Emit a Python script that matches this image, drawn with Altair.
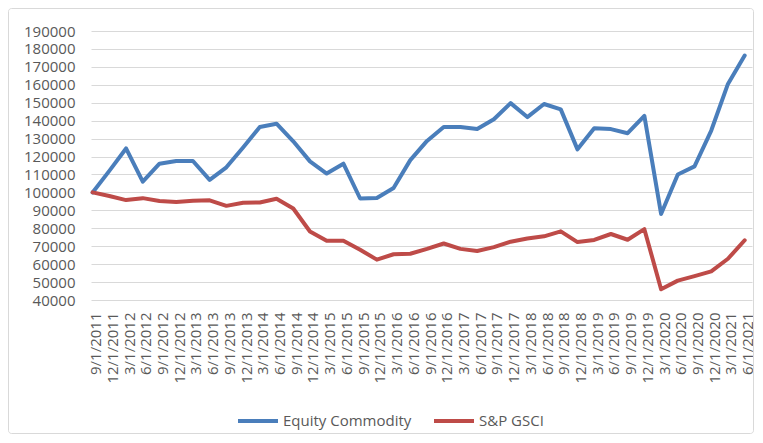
import altair as alt
import pandas as pd

dates = [
    "9/1/2011", "12/1/2011", "3/1/2012", "6/1/2012", "9/1/2012", "12/1/2012",
    "3/1/2013", "6/1/2013", "9/1/2013", "12/1/2013", "3/1/2014", "6/1/2014",
    "9/1/2014", "12/1/2014", "3/1/2015", "6/1/2015", "9/1/2015", "12/1/2015",
    "3/1/2016", "6/1/2016", "9/1/2016", "12/1/2016", "3/1/2017", "6/1/2017",
    "9/1/2017", "12/1/2017", "3/1/2018", "6/1/2018", "9/1/2018", "12/1/2018",
    "3/1/2019", "6/1/2019", "9/1/2019", "12/1/2019", "3/1/2020", "6/1/2020",
    "9/1/2020", "12/1/2020", "3/1/2021", "6/1/2021",
]

equity_commodity = [
    100000, 112000, 124500, 106000, 116000, 117500, 117500, 107000, 114000, 125000,
    136500, 138300, 128500, 117300, 110500, 116000, 96600, 96900, 102500, 118000,
    128700, 136500, 136500, 135300, 140800, 149800, 142000, 149300, 146300, 124000,
    135800, 135300, 133000, 142700, 88000, 110000, 114500, 134500, 160500, 176300,
]

sp_gsci = [
    100000, 98000, 95700, 96800, 95200, 94700, 95400, 95600, 92500, 94200,
    94400, 96500, 91000, 78200, 73000, 73000, 68000, 62500, 65500, 65800,
    68500, 71500, 68500, 67300, 69500, 72500, 74300, 75500, 78300, 72300,
    73500, 76800, 73600, 79500, 46000, 50800, 53300, 56000, 63000, 73300,
]

series_names = ["Equity Commodity", "S&P GSCI"]
series_colors = ["#4A7EBB", "#BE4B48"]
y_ticks = list(range(40000, 190001, 10000))

rows = []
for name, vals in zip(series_names, [equity_commodity, sp_gsci]):
    for d, v in zip(dates, vals):
        rows.append({"date": d, "value": v, "series": name})
df = pd.DataFrame(rows)

font = "Open Sans"
text_color = "#595959"
grid_color = "#D9D9D9"

lines = alt.Chart(df).mark_line(strokeWidth=4, strokeJoin="round", strokeCap="round").encode(
    x=alt.X(
        "date:O",
        sort=dates,
        scale=alt.Scale(type="point", padding=0.267, align=0.18),
        axis=alt.Axis(
            title=None,
            labelAngle=270,
            labelFont=font,
            labelFontSize=15,
            labelColor=text_color,
            labelPadding=12,
            labelOffset=3,
            labelOverlap=False,
            ticks=False,
            domain=False,
            grid=False,
        ),
    ),
    y=alt.Y(
        "value:Q",
        scale=alt.Scale(domain=[40000, 190000], nice=False, zero=False),
        axis=alt.Axis(
            title=None,
            values=y_ticks,
            format="d",
            labelFont=font,
            labelFontSize=15,
            labelColor=text_color,
            labelPadding=16,
            ticks=False,
            domain=False,
            grid=True,
            gridColor=grid_color,
            gridWidth=1,
        ),
    ),
    color=alt.Color(
        "series:N",
        scale=alt.Scale(domain=series_names, range=series_colors),
        legend=alt.Legend(
            title=None,
            orient="none",
            legendX=145,
            legendY=368,
            direction="horizontal",
            symbolType="stroke",
            symbolSize=1600,
            symbolStrokeWidth=4,
            labelFont=font,
            labelFontSize=15,
            labelColor=text_color,
            labelOffset=3,
            columnPadding=14,
            padding=0,
        ),
    ),
)

border = alt.Chart(alt.Data(values=[{}])).mark_rect(
    fillOpacity=0, stroke=grid_color, strokeWidth=1, cornerRadius=3
).encode(
    x=alt.value(-82.5),
    x2=alt.value(662.5),
    y=alt.value(-22.5),
    y2=alt.value(402.5),
)

chart = alt.layer(border, lines).properties(
    width=661,
    height=269,
    autosize=alt.AutoSizeParams(type="none"),
    padding={"left": 83, "top": 23, "right": 3, "bottom": 135},
).configure_view(stroke=None)

chart.save("out.html", embed_options={"renderer": "svg", "actions": False})
